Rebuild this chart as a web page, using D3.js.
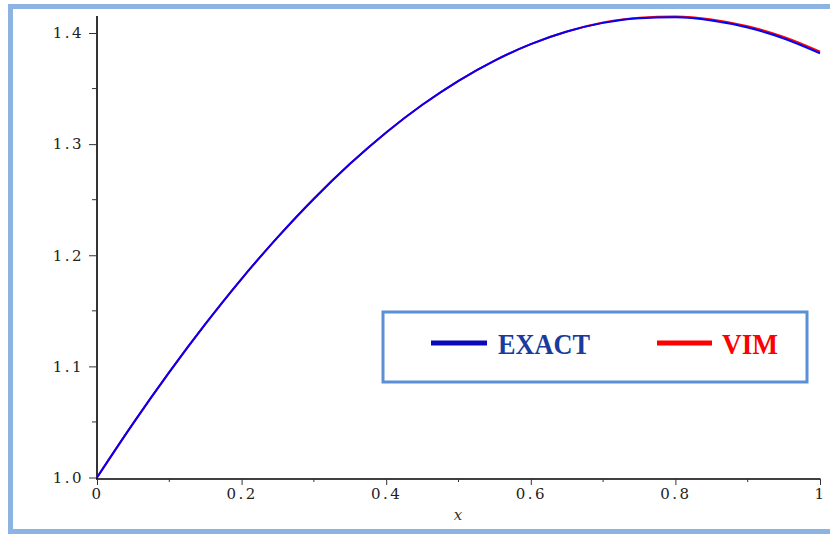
<!DOCTYPE html>
<html>
<head>
<meta charset="utf-8">
<script src="https://cdn.jsdelivr.net/npm/d3@7"></script>
<style>
    body { margin: 0; background: #fff; }
    svg { display: block; }
    .tick text { font-family: "DejaVu Serif", "Liberation Serif", serif; fill: #222; }
</style>
</head>
<body>
<svg width="830" height="534"></svg>
<script>
    // values
    var xs = [0, 0.05, 0.1, 0.15, 0.2, 0.25, 0.3, 0.35, 0.4, 0.45, 0.5,
              0.55, 0.6, 0.65, 0.7, 0.75, 0.8, 0.85, 0.9, 0.95, 1];
    var exact = [1.000, 1.0487, 1.0948, 1.1382, 1.1788, 1.2163, 1.2509, 1.2823, 1.3105, 1.3354, 1.3570,
                 1.3752, 1.3900, 1.4013, 1.4091, 1.4133, 1.4141, 1.4113, 1.4049, 1.3951, 1.3818];
    var vim = [1.000, 1.0487, 1.0948, 1.1382, 1.1788, 1.2163, 1.2509, 1.2823, 1.3105, 1.3354, 1.3570,
               1.3752, 1.3900, 1.4014, 1.4094, 1.4138, 1.4148, 1.4122, 1.4060, 1.3964, 1.3832];
    var xTicks = [0, 0.2, 0.4, 0.6, 0.8, 1];
    var xMinor = [0.1, 0.3, 0.5, 0.7, 0.9];
    var yTicks = [1.0, 1.1, 1.2, 1.3, 1.4];
    var yMinor = [1.05, 1.15, 1.25, 1.35];

    var svg = d3.select("svg");

    // outer frame
    svg.append("rect")
        .attr("x", 10.5).attr("y", 6.5)
        .attr("width", 830).attr("height", 525)
        .attr("fill", "none")
        .attr("stroke", "#8db3e2")
        .attr("stroke-width", 5);

    var x = d3.scaleLinear().domain([0, 1]).range([97, 820]);
    var y = d3.scaleLinear().domain([1.0, 1.4]).range([477.5, 33]);

    // y axis
    var gy = svg.append("g").attr("transform", "translate(97,0)");
    gy.append("line").attr("x1", 0).attr("x2", 0)
        .attr("y1", y(1.0) + 1.5).attr("y2", 16)
        .attr("stroke", "#000").attr("stroke-width", 1.6);
    gy.selectAll(".ymin").data(yMinor).enter().append("line")
        .attr("x1", -5).attr("x2", 0)
        .attr("y1", function(d) { return y(d); }).attr("y2", function(d) { return y(d); })
        .attr("stroke", "#333");
    gy.call(d3.axisLeft(y).tickValues(yTicks).tickFormat(d3.format(".1f")).tickSize(8).tickPadding(5))
        .call(function(g) { g.select(".domain").remove(); })
        .call(function(g) { g.selectAll(".tick line").attr("stroke", "#333"); })
        .selectAll("text").attr("font-size", 15).attr("letter-spacing", 2.5);

    // x axis
    var gx = svg.append("g").attr("transform", "translate(0," + (y(1.0) + 1.5) + ")");
    gx.append("line").attr("x1", 96).attr("x2", x(1) + 0.5)
        .attr("y1", 0).attr("y2", 0)
        .attr("stroke", "#000").attr("stroke-width", 1.6);
    gx.selectAll(".xmin").data(xMinor).enter().append("line")
        .attr("x1", function(d) { return x(d); }).attr("x2", function(d) { return x(d); })
        .attr("y1", 0).attr("y2", 3)
        .attr("stroke", "#333");
    gx.call(d3.axisBottom(x).tickValues(xTicks).tickFormat(function(d) { return d === 0 || d === 1 ? d : d3.format(".1f")(d); }).tickSize(6).tickPadding(3))
        .call(function(g) { g.select(".domain").remove(); })
        .call(function(g) { g.selectAll(".tick line").attr("stroke", "#333"); })
        .selectAll("text").attr("font-size", 15).attr("letter-spacing", 2.5);

    svg.append("text")
        .attr("x", 458).attr("y", 520)
        .attr("text-anchor", "middle")
        .attr("font-family", "DejaVu Serif, serif")
        .attr("font-style", "italic")
        .attr("font-size", 15)
        .attr("fill", "#333")
        .text("x");

    // curves
    var line = d3.line()
        .x(function(d) { return x(d[0]); })
        .y(function(d) { return y(d[1]); })
        .curve(d3.curveMonotoneX);

    svg.append("path")
        .datum(xs.map(function(v, i) { return [v, vim[i]]; }))
        .attr("d", line)
        .attr("fill", "none").attr("stroke", "#ff0000").attr("stroke-width", 2);
    svg.append("path")
        .datum(xs.map(function(v, i) { return [v, exact[i]]; }))
        .attr("d", line)
        .attr("fill", "none").attr("stroke", "#0000ff").attr("stroke-width", 2);

    // legend
    var lg = svg.append("g");
    lg.append("rect")
        .attr("x", 383).attr("y", 312)
        .attr("width", 424).attr("height", 70)
        .attr("fill", "#fff").attr("stroke", "#5b8fd6").attr("stroke-width", 3);
    lg.append("line").attr("x1", 431).attr("x2", 487).attr("y1", 343).attr("y2", 343)
        .attr("stroke", "#0a0ab8").attr("stroke-width", 5);
    lg.append("text").attr("x", 498).attr("y", 354)
        .attr("font-family", "Liberation Serif, serif").attr("font-weight", "bold")
        .attr("font-size", 30).attr("fill", "#1a3b9e")
        .attr("textLength", 92).attr("lengthAdjust", "spacingAndGlyphs")
        .text("EXACT");
    lg.append("line").attr("x1", 657).attr("x2", 712).attr("y1", 343).attr("y2", 343)
        .attr("stroke", "#ff0000").attr("stroke-width", 5);
    lg.append("text").attr("x", 722).attr("y", 354)
        .attr("font-family", "Liberation Serif, serif").attr("font-weight", "bold")
        .attr("font-size", 30).attr("fill", "#ff0000")
        .attr("textLength", 56).attr("lengthAdjust", "spacingAndGlyphs")
        .text("VIM");
</script>
</body>
</html>
